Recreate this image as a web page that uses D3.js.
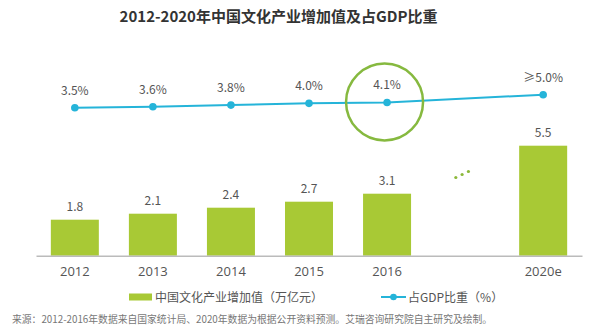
<!DOCTYPE html>
<html>
<head>
<meta charset="utf-8">
<script src="https://cdn.jsdelivr.net/npm/d3@7"></script>
<style>
  body { margin: 0; background: #fff; }
  svg { display: block; font-family: "Noto Sans CJK SC", "Noto Sans", sans-serif; }
</style>
</head>
<body>
<svg width="600" height="332"></svg>
<script>
// categories, with an empty slot standing for the skipped years
const years = ['2012', '2013', '2014', '2015', '2016', 'gap', '2020e']
const barYears = ['2012', '2013', '2014', '2015', '2016', '2020e']
const addedValue = [1.8, 2.1, 2.4, 2.7, 3.1, 5.5]
const gdpShare = [3.5, 3.6, 3.8, 4.0, 4.1, 5.0]
const shareLabels = ['3.5%', '3.6%', '3.8%', '4.0%', '4.1%', '≥5.0%']
const highlightYear = '2016'

const barColor = '#a8c935'
const lineColor = '#25b4d9'
const textColor = '#555'

const svg = d3.select('svg')

const x = d3.scaleBand()
    .domain(years)
    .range([36, 582])
    .paddingInner(0.385)
    .paddingOuter(0.19)

const cx = d => x(d) + x.bandwidth() / 2

const yBar = d3.scaleLinear()
    .domain([0, 6])
    .range([255.7, 135.7])

const yLine = d3.scaleLinear()
    .domain([0, 5])
    .range([138, 94.7])

const bars = barYears.map((year, i) => ({ year, value: addedValue[i] }))
const points = barYears.map((year, i) => ({ year, value: gdpShare[i], label: shareLabels[i] }))

// title
svg.append('text')
    .attr('x', 278.5)
    .attr('y', 22)
    .attr('text-anchor', 'middle')
    .attr('font-size', 15)
    .attr('font-weight', 'bold')
    .attr('fill', '#333')
    .text('2012-2020年中国文化产业增加值及占GDP比重')

// bars
svg.selectAll('rect.bar').data(bars)
    .enter().append('rect')
        .attr('class', 'bar')
        .attr('x', d => x(d.year))
        .attr('y', d => yBar(d.value))
        .attr('width', x.bandwidth())
        .attr('height', d => yBar(0) - yBar(d.value))
        .attr('fill', barColor)

svg.selectAll('text.bar-label').data(bars)
    .enter().append('text')
        .attr('class', 'bar-label')
        .attr('x', d => cx(d.year))
        .attr('y', d => yBar(d.value) - 9)
        .attr('text-anchor', 'middle')
        .attr('font-size', 12)
        .attr('fill', textColor)
        .text(d => d.value.toFixed(1))

// x axis
const xAxis = svg.append('g')
    .attr('transform', `translate(0,${yBar(0)})`)
    .call(d3.axisBottom(x).tickSize(0).tickPadding(11)
        .tickFormat(d => d === 'gap' ? '' : d))

xAxis.select('.domain')
    .attr('stroke', '#bbb')
    .attr('stroke-width', 1.5)

xAxis.selectAll('text')
    .attr('font-size', 13)
    .attr('fill', textColor)
    .attr('font-family', '"Open Sans", "Noto Sans", sans-serif')

// rising dots in the skipped slot
const gapX = cx('gap')
svg.selectAll('circle.gap-dot').data([-1, 0, 1])
    .enter().append('circle')
        .attr('class', 'gap-dot')
        .attr('cx', d => gapX - 3 + d * 6.3)
        .attr('cy', d => 174.5 - d * 3)
        .attr('r', 1.6)
        .attr('fill', '#8cb83a')

// share of GDP line
const line = d3.line()
    .x(d => cx(d.year))
    .y(d => yLine(d.value))

svg.append('path')
    .datum(points)
    .attr('d', line)
    .attr('fill', 'none')
    .attr('stroke', lineColor)
    .attr('stroke-width', 2)

svg.selectAll('circle.point').data(points)
    .enter().append('circle')
        .attr('class', 'point')
        .attr('cx', d => cx(d.year))
        .attr('cy', d => yLine(d.value))
        .attr('r', 3.8)
        .attr('fill', lineColor)

svg.selectAll('text.point-label').data(points)
    .enter().append('text')
        .attr('class', 'point-label')
        .attr('x', d => cx(d.year))
        .attr('y', d => yLine(d.value) - 13)
        .attr('text-anchor', 'middle')
        .attr('font-size', 12)
        .attr('fill', textColor)
        .text(d => d.label)

// ring around the latest actual value
const hp = points.find(d => d.year === highlightYear)
svg.append('circle')
    .attr('cx', cx(hp.year) - 2.5)
    .attr('cy', yLine(hp.value) - 0.5)
    .attr('r', 38.5)
    .attr('fill', 'none')
    .attr('stroke', '#86b93f')
    .attr('stroke-width', 2.5)

// legend
const legend = svg.append('g')
    .attr('transform', 'translate(0,297)')

legend.append('rect')
    .attr('x', 129)
    .attr('y', -3.5)
    .attr('width', 23)
    .attr('height', 7)
    .attr('fill', barColor)

legend.append('text')
    .attr('x', 155)
    .attr('y', 4.5)
    .attr('font-size', 12)
    .attr('fill', textColor)
    .text('中国文化产业增加值（万亿元）')

legend.append('line')
    .attr('x1', 381)
    .attr('x2', 406)
    .attr('stroke', lineColor)
    .attr('stroke-width', 2)

legend.append('circle')
    .attr('cx', 393.5)
    .attr('r', 3.3)
    .attr('fill', lineColor)

legend.append('text')
    .attr('x', 408)
    .attr('y', 4.5)
    .attr('font-size', 12)
    .attr('fill', textColor)
    .text('占GDP比重（%）')

// source note
svg.append('text')
    .attr('x', 12)
    .attr('y', 322.5)
    .attr('font-size', 9.8)
    .attr('fill', '#777')
    .text('来源：2012-2016年数据来自国家统计局、2020年数据为根据公开资料预测。艾瑞咨询研究院自主研究及绘制。')
</script>
</body>
</html>
